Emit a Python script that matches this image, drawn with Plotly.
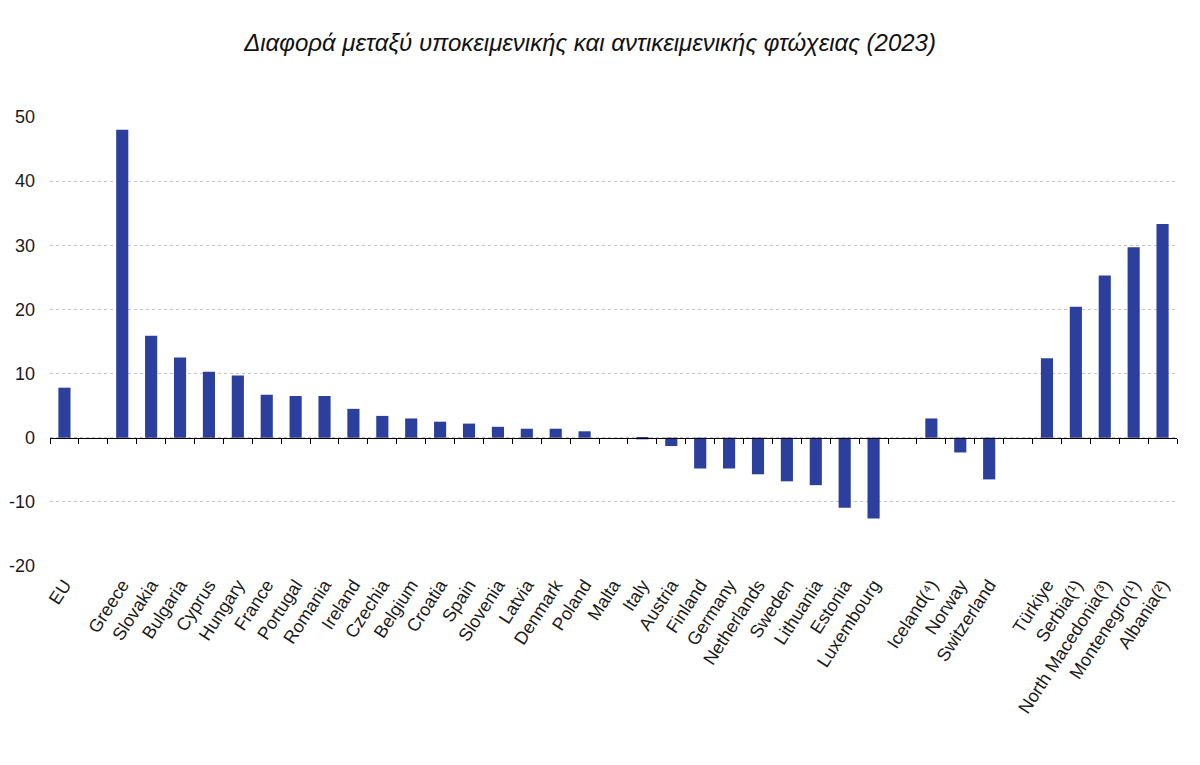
import plotly.graph_objects as go

categories = ["EU", " ", "Greece", "Slovakia", "Bulgaria", "Cyprus", "Hungary", "France",
              "Portugal", "Romania", "Ireland", "Czechia", "Belgium", "Croatia", "Spain",
              "Slovenia", "Latvia", "Denmark", "Poland", "Malta", "Italy", "Austria",
              "Finland", "Germany", "Netherlands", "Sweden", "Lithuania", "Estonia",
              "Luxembourg", "  ", "Iceland(⁴)", "Norway", "Switzerland", "   ",
              "Türkiye", "Serbia(¹)", "North Macedonia(³)", "Montenegro(¹)", "Albania(²)"]
values = [7.8, None, 48.0, 15.9, 12.5, 10.3, 9.7, 6.7,
          6.5, 6.5, 4.5, 3.4, 3.0, 2.5, 2.2,
          1.7, 1.4, 1.4, 1.0, 0.0, -0.25, -1.3,
          -4.8, -4.8, -5.7, -6.8, -7.4, -10.9,
          -12.6, None, 3.0, -2.3, -6.5, None,
          12.4, 20.4, 25.3, 29.7, 33.3]
y_ticks = [-20, -10, 0, 10, 20, 30, 40, 50]
y_tick_labels = ["-20", "-10", "0", "10", "20", "30", "40", "50"]
title_text = "Διαφορά μεταξύ υποκειμενικής και αντικειμενικής φτώχειας (2023)"

y_min, y_max = -20, 50

fig = go.Figure()
fig.add_trace(go.Bar(
    x=categories, y=values,
    marker=dict(color="#2c3f9d", line=dict(width=0)),
    width=0.42, hoverinfo="skip", showlegend=False,
))
# invisible trace to carry the tick axis at zero
fig.add_trace(go.Bar(
    x=categories, y=values, xaxis="x2", opacity=0,
    hoverinfo="skip", showlegend=False, width=0.42,
))

fig.update_layout(
    width=1184, height=749,
    paper_bgcolor="white", plot_bgcolor="white",
    margin=dict(l=42, r=14.5, t=109, b=191, autoexpand=False),
    title=dict(text=title_text, x=0.4916, xanchor="center", y=0.9533, yanchor="middle",
               font=dict(family="Liberation Sans", size=24, color="#111111", style="italic")),
    bargap=0.58,
    xaxis=dict(
        type="category", categoryorder="array", categoryarray=categories,
        range=[-0.5, len(categories) - 0.5], automargin=False,
        showgrid=False, showline=False, zeroline=False, ticks="",
        ticklabelstandoff=4,
        tickangle=-57, tickfont=dict(family="Liberation Sans", size=18, color="#1a1a1a"),
    ),
    xaxis2=dict(
        type="category", categoryorder="array", categoryarray=categories,
        range=[-0.5, len(categories) - 0.5], automargin=False,
        overlaying="x", anchor="free", position=(0 - y_min) / (y_max - y_min),
        showgrid=False, zeroline=False, showline=True, linecolor="black", linewidth=1,
        ticks="outside", tickson="boundaries", ticklen=5, tickcolor="black", tickwidth=1,
        showticklabels=False,
    ),
    yaxis=dict(
        range=[y_min, y_max], tickvals=y_ticks, ticktext=y_tick_labels, automargin=False,
        showgrid=True, gridcolor="#c4c4c4", griddash="dot", gridwidth=1,
        zeroline=False, showline=False, ticks="",
        ticklabelstandoff=14,
        tickfont=dict(family="Liberation Sans", size=18, color="#1a1a1a"),
    ),
)

fig.write_html("out.html")
